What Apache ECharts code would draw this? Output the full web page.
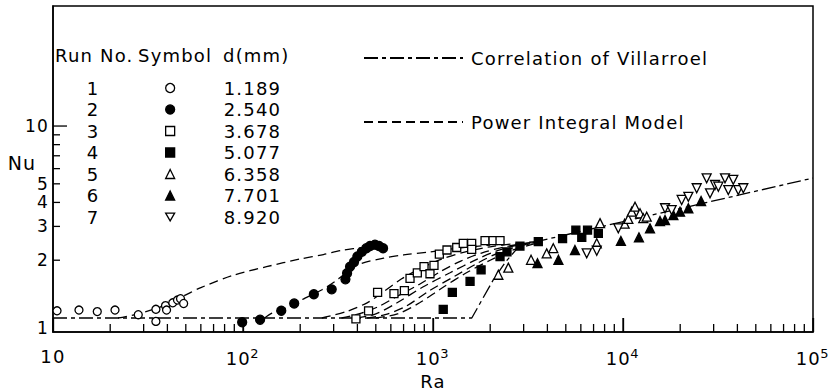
<!DOCTYPE html>
<html><head><meta charset="utf-8">
<script src="https://cdn.jsdelivr.net/npm/echarts@6/dist/echarts.min.js"></script>
<style>html,body{margin:0;padding:0;background:#fff}#c{width:829px;height:391px}#c text{letter-spacing:1.2px}</style>
</head><body><div id="c"></div>
<script>
// ---- data ----
const runNumbers = ['1','2','3','4','5','6','7'];
const diameters = ['1.189','2.540','3.678','5.077','6.358','7.701','8.920'];
const run1 = [[10.5,1.09],[13.7,1.10],[17.1,1.08],[21.2,1.10],[28.1,1.04],[34.8,1.11],[34.8,0.96],[39.1,1.16],[39.6,1.10],[42.7,1.20],[45.2,1.24],[46.9,1.26],[48.7,1.19]];
const run2 = [[99,0.95],[123,0.98],[159,1.09],[186,1.19],[236,1.33],[293,1.41],[346,1.59],[353,1.71],[366,1.85],[384,1.96],[400,2.09],[422,2.21],[446,2.31],[466,2.37],[495,2.41],[520,2.37],[546,2.31]];
const run3 = [[393,0.99],[458,1.09],[511,1.36],[623,1.34],[707,1.39],[757,1.61],[827,1.72],[897,1.85],[964,1.70],[1012,1.88],[1080,2.15],[1185,2.26],[1333,2.33],[1443,2.45],[1598,2.45],[1598,2.28],[1879,2.53],[2071,2.53],[2253,2.53]];
const run4 = [[1132,1.11],[1264,1.36],[1567,1.55],[1791,1.78],[2253,2.09],[2451,2.21],[2868,2.37],[3583,2.50],[4808,2.59],[5648,2.87],[6068,2.63],[6506,2.87],[7417,2.76]];
const run5 = [[2208,1.68],[2491,1.83],[3281,2.01],[3966,2.17],[4296,2.31],[7275,2.45],[7570,3.12],[10200,3.10],[10670,3.28],[11120,3.58],[11570,3.80],[12290,3.51],[12790,3.31],[13330,3.37]];
const run6 = [[3548,1.93],[4571,2.01],[5587,2.26],[9750,2.52],[12130,2.63],[13870,2.93],[15660,3.20],[16640,3.24],[18410,3.44],[19960,3.58],[22080,3.73],[25760,4.07]];
const run7 = [[6442,2.17],[7275,2.24],[9445,2.93],[16640,3.73],[18030,3.65],[20360,4.12],[22080,4.28],[24430,4.74],[27560,5.34],[28710,4.46],[30500,4.93],[31760,4.83],[34420,5.34],[35830,4.64],[38050,5.24],[40440,4.64],[42970,4.74]];
const villarroel = [[10,1],[1600,1],[2075,1.58],[2400,1.95],[2800,2.33],[3500,2.5],[100000,5.36]];
const pim1 = [[22,1.0],[28,1.05],[36.6,1.14],[50,1.32],[60,1.44],[89,1.67],[133,1.85],[200,2.03],[265,2.14],[330,2.25],[400,2.31],[460,2.35]];
const pim2 = [[130,1.0],[142,1.06],[177,1.15],[212,1.27],[259,1.40],[305,1.55],[350,1.72],[413,1.91],[550,2.05],[700,2.13],[964,2.21],[1400,2.32],[2000,2.4]];
const pim3 = [[260,1.0],[350,1.08],[450,1.2],[527,1.33],[684,1.6],[850,1.8],[1100,2.02],[1500,2.22],[2000,2.35],[2800,2.45],[3500,2.5]];
const pim4 = [[330,1.0],[420,1.06],[520,1.15],[650,1.3],[850,1.5],[1100,1.75],[1400,1.98],[1800,2.18],[2400,2.35],[3500,2.5]];
const pim5 = [[400,1.0],[500,1.05],[647,1.2],[884,1.45],[1229,1.72],[1700,2.02],[2200,2.25],[2900,2.42],[3600,2.5]];
const pim6 = [[450,1.0],[560,1.04],[720,1.15],[950,1.38],[1300,1.65],[1700,1.92],[2200,2.18],[2900,2.38],[3600,2.5]];
const pim7 = [[500,1.0],[650,1.05],[850,1.2],[1100,1.42],[1500,1.72],[2000,2.0],[2600,2.25],[3500,2.45]];
const xMajorTicks = [10,100,1000,10000,100000];
const xTickLabels = ['10','10{s|2}','10{s|3}','10{s|4}','10{s|5}'];
const xMinorTicks = [20,30,40,50,60,70,80,90,200,300,400,500,600,700,800,900,2000,3000,4000,5000,6000,7000,8000,9000,20000,30000,40000,50000,60000,70000,80000,90000];
const yLabelValues = [1,2,3,4,5,10];
const yTickLabels = ['1','2','3','4','5','10'];
const yMajorTicks = [10];
const yMinorTicks = [2,3,4,5,6,7,8,9];
const legendLineNames = ['Correlation of Villarroel','Power Integral Model'];
const headers = ['Run No.','Symbol','d(mm)'];
const xName = 'Ra', yName = 'Nu';

// ---- chart ----
const FONT = 'DejaVu Sans';
const X_MIN = 10, X_MAX = 100000, Y_MIN = 0.8454, Y_MAX = 42.2;
const runData = [run1,run2,run3,run4,run5,run6,run7];
const symbols = ['circle','circle','rect','rect','triangle','triangle','path://M0,0L10,0L5,8.7Z'];
const filled = [false,true,false,true,false,true,false];
const sizes = [8,9,8,8,9,9,9];
const pims = [pim1,pim2,pim3,pim4,pim5,pim6,pim7];

const series = [];
series.push({name: legendLineNames[0], type:'line', data: villarroel, symbol:'none', showSymbol:false, clip:false,
  itemStyle:{color:'#000'},
  lineStyle:{color:'#000', width:1.3, type:[14,4,4,4]}, z:2, animation:false});
pims.forEach(p => series.push({name: legendLineNames[1], type:'line', data:p, symbol:'none', showSymbol:false, clip:false,
  itemStyle:{color:'#000'},
  smooth:0.3, lineStyle:{color:'#000', width:1.3, type:[9,5]}, z:2, animation:false}));
runData.forEach((d,i) => series.push({name: diameters[i], type:'scatter', data:d, symbol:symbols[i], symbolSize:sizes[i],
  itemStyle:{color: filled[i] ? '#000' : '#fff', borderColor:'#000', borderWidth:1.3, opacity:1}, z:3, animation:false}));

// inward tick marks and y labels, placed through the axes' own log scales
function xTickSeries(values, len) {
  return {type:'custom', coordinateSystem:'cartesian2d', silent:true, clip:false, z:5, animation:false,
    data: values.map(v => [v, Y_MIN]),
    renderItem:(params, api) => {
      const p = api.coord([api.value(0), Y_MIN]);
      return {type:'rect', shape:{x:p[0]-0.65, y:p[1]-len, width:1.3, height:len}, style:{fill:'#000'}};
    }};
}
function yTickSeries(values, len) {
  return {type:'custom', coordinateSystem:'cartesian2d', silent:true, clip:false, z:5, animation:false,
    data: values.map(v => [X_MIN, v]),
    renderItem:(params, api) => {
      const p = api.coord([X_MIN, api.value(1)]);
      return {type:'rect', shape:{x:p[0], y:p[1]-0.65, width:len, height:1.3}, style:{fill:'#000'}};
    }};
}
const yLabelSeries = {type:'custom', coordinateSystem:'cartesian2d', silent:true, clip:false, z:5, animation:false,
  data: yLabelValues.map(v => [X_MIN, v]),
  renderItem:(params, api) => {
    const p = api.coord([X_MIN, api.value(1)]);
    const shift = params.dataIndex === 0 ? 10 : 0; // the "1" sits at the foot of the axis, as in the original
    return {type:'text', x:p[0]-4, y:p[1]+shift,
      style:{text: yTickLabels[params.dataIndex], font:'17px "'+FONT+'"', fill:'#000', align:'right', verticalAlign:'middle'}};
  }};
series.push(xTickSeries(xMajorTicks, 14), xTickSeries(xMinorTicks, 8), yTickSeries(yMajorTicks, 14), yTickSeries(yMinorTicks, 7), yLabelSeries);

const graphics = [];
const hx = [55,138,223];
headers.forEach((h,i) => graphics.push({type:'text', left:hx[i], top:46, style:{text:h, font:'18px "'+FONT+'"', fill:'#000'}}));
runNumbers.forEach((r,i) => graphics.push({type:'text', x:93, y:88 + i*21.5, style:{text:r, font:'18px "'+FONT+'"', fill:'#000', align:'center', verticalAlign:'middle'}}));
graphics.push({type:'text', x:22, y:163, style:{text:yName, font:'19px "'+FONT+'"', fill:'#000', align:'center', verticalAlign:'middle'}});

const chart = echarts.init(document.getElementById('c'), null, {renderer:'svg'});
chart.setOption({
  animation:false,
  grid:{left:53, top:6, right:16, bottom:59, outerBoundsMode:'none',
    show:true, borderColor:'#000', borderWidth:1.5},
  xAxis:{
    type:'log', min:X_MIN, max:X_MAX,
    name:xName, nameLocation:'middle', nameGap:23,
    nameTextStyle:{fontFamily:FONT, fontSize:18, color:'#000'},
    axisLine:{show:true, onZero:false, lineStyle:{color:'#000', width:1.5}},
    axisTick:{show:true, inside:true, length:14, lineStyle:{color:'#000', width:1.3}},
    axisLabel:{show:true, margin:15, fontFamily:FONT, fontSize:18, color:'#000',
      formatter:(v)=>xTickLabels[Math.round(Math.log10(v)) - 1] ?? '',
      rich:{s:{fontSize:13, fontFamily:FONT, color:'#000', padding:[0,0,10,1]}}},
    splitLine:{show:false}, minorTick:{show:false}
  },
  yAxis:{
    type:'log', min:Y_MIN, max:Y_MAX,
    axisLine:{show:true, onZero:false, lineStyle:{color:'#000', width:1.5}},
    axisTick:{show:false}, axisLabel:{show:false},
    splitLine:{show:false}
  },
  legend:[{
    data: diameters, orient:'vertical', left:165, top:78, itemWidth:9, itemHeight:9, itemGap:1.5,
    selectedMode:false, padding:0,
    itemStyle:{borderWidth:1.3},
    textStyle:{fontFamily:FONT, fontSize:18, color:'#000', lineHeight:20, padding:[0,0,0,44]}
  },{
    data: legendLineNames, orient:'vertical', left:363, top:48, itemWidth:99, itemHeight:14, itemGap:44,
    selectedMode:false, padding:0,
    itemStyle:{color:'rgba(0,0,0,0)', borderWidth:0, opacity:0},
    textStyle:{fontFamily:FONT, fontSize:18, color:'#000', lineHeight:20, padding:[0,0,0,3]}
  }],
  graphic: graphics,
  series: series
});
</script></body></html>
